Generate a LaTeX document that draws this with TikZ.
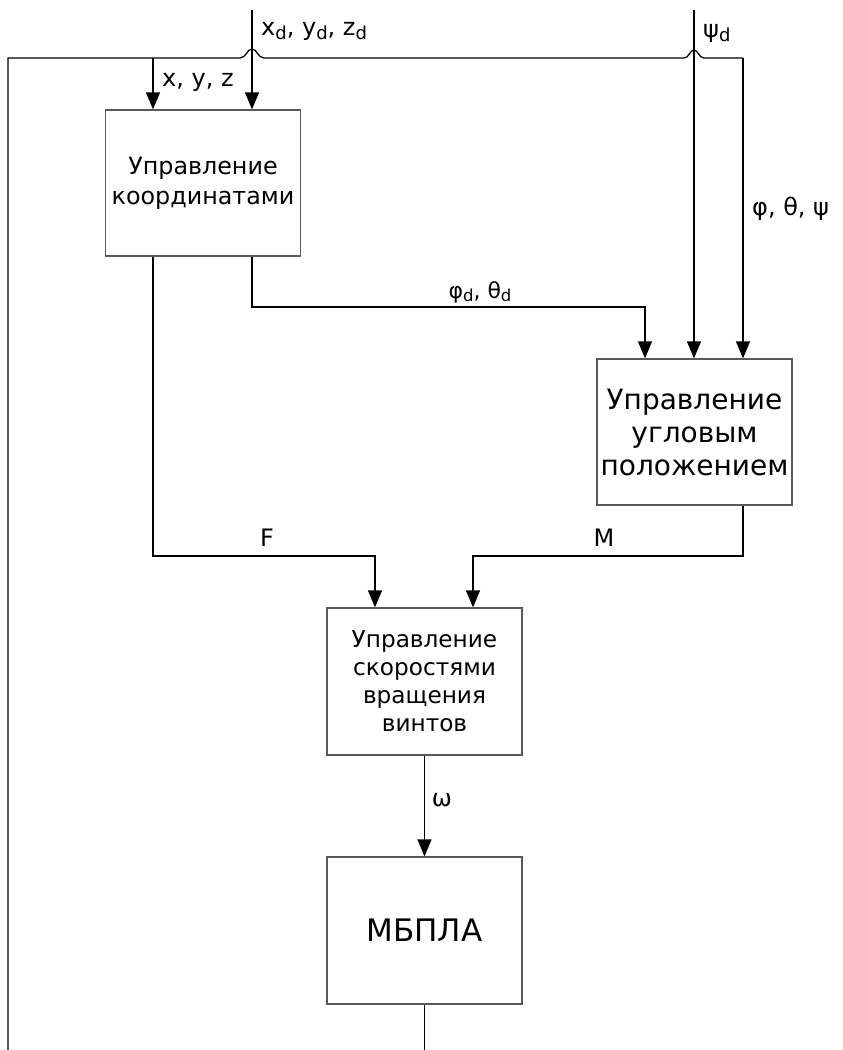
\documentclass[tikz,border=0pt]{standalone}
\usepackage{fontspec}
\setmainfont{DejaVu Sans}
\usetikzlibrary{arrows.meta}
\newcommand\lowd{\raisebox{-0.3ex}{\scalebox{0.75}{d}}}
\tikzset{
  blk/.style={draw=black!65, line width=1.3pt, minimum width=195pt, minimum height=146pt, align=center, inner sep=0pt},
  conn/.style={line width=1.3pt, -{Triangle[length=17pt,width=14pt]}},
  plain/.style={line width=1.3pt},
  lbl/.style={font=\fontsize{24}{28}\selectfont, inner sep=0pt}
}
\begin{document}
\begin{tikzpicture}[x=1pt,y=-1pt]
\useasboundingbox (0,0) rectangle (843,1050);
% blocks
\node[blk, font=\fontsize{23.8}{30}\selectfont] (b1) at (203,183) {Управление\\координатами};
\node[blk, font=\fontsize{28}{33}\selectfont] (b2) at (694.5,432) {Управление\\угловым\\положением};
\node[blk, font=\fontsize{23.2}{28}\selectfont, minimum height=147pt] (b3) at (424.5,681.5) {Управление\\скоростями\\вращения\\винтов};
\node[blk, font=\fontsize{31}{36}\selectfont, minimum height=147pt] (b4) at (424.5,930.5) {МБПЛА};
% coordinates
\coordinate (xin) at (252,10);
\coordinate (psin) at (694,10);
\coordinate (fbl) at (8,1050);
\coordinate (fbtl) at (8,58);
\coordinate (xyzc) at (153,58);
\coordinate (fbr) at (743,58);
\coordinate (out) at (424.5,1050);
\coordinate (phx) at (645,10);
\coordinate (Fx) at (375,10);
\coordinate (Mx) at (473,10);
% inputs
\draw[conn] (xin) -- (xin |- b1.north);
\draw[conn] (psin) -- (psin |- b2.north);
% feedback
\draw[plain] (fbl) -- (fbtl) -- (240,58) .. controls (246,58) and (247,49) .. (252,49) .. controls (257,49) and (258,58) .. (264,58)
  -- (684,58) .. controls (689,58) and (690,50) .. (694,50) .. controls (698,50) and (699,58) .. (704,58) -- (fbr);
\draw[conn] (fbr) -- (fbr |- b2.north);
\draw[conn] (xyzc) -- (xyzc |- b1.north);
% phi_d theta_d
\draw[conn] (xin |- b1.south) -- (252,307) -- (phx |- 0,307) -- (phx |- b2.north);
% F
\draw[conn] (xyzc |- b1.south) -- (153,556) -- (Fx |- 0,556) -- (Fx |- b3.north);
% M
\draw[conn] (fbr |- b2.south) -- (743,556) -- (Mx |- 0,556) -- (Mx |- b3.north);
% omega
\draw[conn] (b3) -- (b4);
\draw[plain] (b4.south) -- (out);
% labels
\node[lbl, anchor=west] (lxyz) at (162,82) {x, y, z};
\node[lbl, anchor=west] (lxd) at (261,31) {x\lowd, y\lowd, z\lowd};
\node[lbl, anchor=west] (lpsd) at (703,33) {ψ\lowd};
\node[lbl, anchor=west] (lang) at (752,209) {φ, θ, ψ};
\node[lbl, font=\fontsize{22}{26}\selectfont] (lphd) at (480,292) {φ\lowd, θ\lowd};
\node[lbl] (lF) at (267,538) {F};
\node[lbl] (lM) at (604,538) {M};
\node[lbl] (lom) at (442,800) {ω};
\end{tikzpicture}
\end{document}
